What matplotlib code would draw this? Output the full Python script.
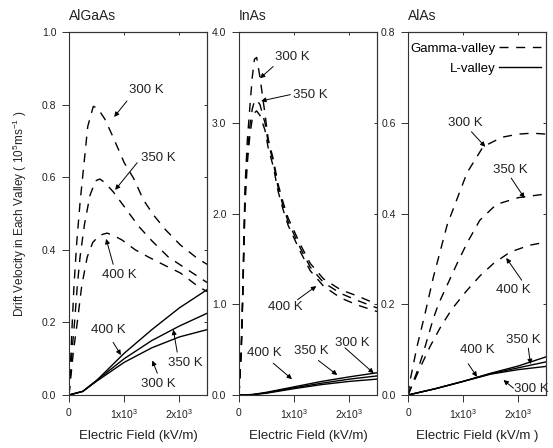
import matplotlib
matplotlib.use('Agg')
import matplotlib.pyplot as plt
from matplotlib.lines import Line2D

plt.rcParams['font.family'] = ['Liberation Sans', 'DejaVu Sans']
plt.rcParams['mathtext.default'] = 'regular'

# ---- AlGaAs ----
algaas_g300_x = [0, 20, 50, 90, 140, 200, 260, 340, 440, 520, 650, 800, 1000, 1170, 1350, 1530, 1750, 2020, 2320, 2500]
algaas_g300_y = [0, 0.06, 0.17, 0.30, 0.42, 0.53, 0.62, 0.74, 0.795, 0.79, 0.76, 0.71, 0.64, 0.597, 0.537, 0.496, 0.455, 0.413, 0.377, 0.36]
algaas_g350_x = [0, 25, 60, 100, 150, 200, 280, 380, 480, 560, 650, 800, 1020, 1260, 1500, 1800, 2100, 2500]
algaas_g350_y = [0, 0.05, 0.13, 0.20, 0.30, 0.38, 0.47, 0.55, 0.59, 0.595, 0.585, 0.56, 0.515, 0.465, 0.425, 0.38, 0.35, 0.31]
algaas_g400_x = [0, 40, 80, 150, 230, 330, 430, 550, 690, 800, 960, 1200, 1440, 1750, 2020, 2330, 2500]
algaas_g400_y = [0, 0.06, 0.12, 0.20, 0.30, 0.38, 0.42, 0.44, 0.446, 0.44, 0.427, 0.40, 0.38, 0.356, 0.336, 0.30, 0.285]
algaas_l_x = [0, 250, 500, 1000, 1500, 2000, 2500]
algaas_l400_y = [0, 0.01, 0.04, 0.115, 0.18, 0.24, 0.29]
algaas_l350_y = [0, 0.01, 0.04, 0.10, 0.15, 0.19, 0.225]
algaas_l300_y = [0, 0.01, 0.038, 0.09, 0.13, 0.16, 0.18]

# ---- InAs ----
inas_g_x = [0, 40, 70, 90, 110, 150, 200, 240, 280, 320, 380, 470, 530, 620, 710, 800, 890, 1110, 1290, 1530, 1840, 2150, 2500]
inas_g300_y = [0, 0.5, 1.2, 1.8, 2.3, 2.8, 3.2, 3.5, 3.70, 3.72, 3.5, 3.1, 2.82, 2.6, 2.32, 2.12, 1.95, 1.66, 1.45, 1.28, 1.16, 1.09, 1.00]
inas_g350_y = [0, 0.48, 1.15, 1.7, 2.2, 2.65, 2.98, 3.15, 3.24, 3.25, 3.2, 3.0, 2.78, 2.57, 2.28, 2.08, 1.91, 1.62, 1.41, 1.24, 1.12, 1.04, 0.96]
inas_g400_y = [0, 0.46, 1.1, 1.62, 2.1, 2.55, 2.88, 3.04, 3.11, 3.13, 3.08, 2.92, 2.72, 2.52, 2.24, 2.04, 1.87, 1.58, 1.37, 1.2, 1.07, 0.99, 0.92]
inas_l_x = [0, 250, 500, 1000, 1500, 2000, 2500]
inas_l400_y = [0, 0.005, 0.03, 0.09, 0.15, 0.20, 0.245]
inas_l350_y = [0, 0.005, 0.025, 0.08, 0.13, 0.175, 0.21]
inas_l300_y = [0, 0.004, 0.02, 0.07, 0.115, 0.15, 0.175]

# ---- AlAs ----
alas_g300_x = [0, 40, 160, 310, 460, 710, 1070, 1360, 1700, 2000, 2250, 2500]
alas_g300_y = [0, 0.033, 0.105, 0.18, 0.26, 0.375, 0.49, 0.547, 0.568, 0.575, 0.577, 0.575]
alas_g350_x = [0, 160, 270, 450, 550, 890, 1070, 1300, 1600, 2000, 2500]
alas_g350_y = [0, 0.05, 0.09, 0.165, 0.2, 0.29, 0.335, 0.385, 0.42, 0.435, 0.443]
alas_g400_x = [0, 200, 400, 600, 800, 1050, 1300, 1550, 1850, 2200, 2500]
alas_g400_y = [0, 0.055, 0.107, 0.152, 0.19, 0.228, 0.262, 0.29, 0.315, 0.33, 0.337]
alas_l_x = [0, 500, 1000, 1500, 2000, 2500]
alas_l400_y = [0, 0.014, 0.03, 0.048, 0.064, 0.084]
alas_l350_y = [0, 0.014, 0.03, 0.047, 0.060, 0.073]
alas_l300_y = [0, 0.014, 0.03, 0.046, 0.056, 0.063]

# labels: (text, text centre, arrow tail, arrow head)
algaas_notes = [
    ('300 K', (1400, 0.84), (1050, 0.81), (818, 0.766)),
    ('350 K', (1620, 0.653), (1236, 0.64), (836, 0.565)),
    ('400 K', (910, 0.33), (800, 0.36), (673, 0.43)),
    ('400 K', (710, 0.18), (800, 0.145), (940, 0.11)),
    ('350 K', (2100, 0.088), (1960, 0.118), (1890, 0.18)),
    ('300 K', (1620, 0.03), (1600, 0.06), (1510, 0.095)),
]
inas_notes = [
    ('300 K', (960, 3.72), (620, 3.62), (380, 3.49)),
    ('350 K', (1290, 3.31), (930, 3.31), (400, 3.24)),
    ('400 K', (830, 0.97), (1060, 1.05), (1400, 1.2)),
    ('400 K', (455, 0.46), (620, 0.35), (960, 0.175)),
    ('350 K', (1310, 0.485), (1440, 0.38), (1780, 0.22)),
    ('300 K', (2050, 0.57), (1920, 0.52), (2440, 0.24)),
]
alas_notes = [
    ('300 K', (1030, 0.60), (1150, 0.58), (1400, 0.547)),
    ('350 K', (1850, 0.496), (1870, 0.478), (2110, 0.434)),
    ('400 K', (1910, 0.231), (2060, 0.253), (1780, 0.302)),
    ('400 K', (1260, 0.099), (1090, 0.069), (1250, 0.04)),
    ('350 K', (2090, 0.121), (2180, 0.103), (2220, 0.068)),
    ('300 K', (2240, 0.013), (1910, 0.015), (1730, 0.033)),
]

xtick_vals = [0, 1000, 2000]
xtick_text = ['0', '1x10$^{3}$', '2x10$^{3}$']

fig = plt.figure(figsize=(5.53, 4.48), dpi=100)
W, H = 553.0, 448.0
axes_px = [69, 239, 408]
axs = [fig.add_axes([l / W, 53 / H, 138 / W, 363 / H]) for l in axes_px]

dash = (6.5, 5.5)
edge = '#333333'
tcol = '#222222'


def draw_panel(ax, title, gammas, ls, ymax, ystep, notes, xlabel):
    for gx, gy in gammas:
        ax.plot(gx, gy, color='k', lw=1.0, dashes=dash)
    for lx, ly in ls:
        ax.plot(lx, ly, color='k', lw=1.0)
    ax.set_xlim(0, 2500)
    ax.set_ylim(0, ymax)
    ax.set_xticks(xtick_vals)
    ax.set_xticklabels(xtick_text)
    nt = int(round(ymax / ystep)) + 1
    yt = [i * ystep for i in range(nt)]
    ax.set_yticks(yt)
    ax.set_yticklabels(['%.1f' % v for v in yt])
    ax.tick_params(direction='out', length=5, width=0.7, color=edge,
                   labelsize=7.5, pad=4, labelcolor=tcol)
    # short inward ticks on the top and right frame
    top = ax.secondary_xaxis('top')
    top.set_xticks(xtick_vals)
    top.tick_params(direction='in', length=2.5, width=0.7, color=edge,
                    labeltop=False)
    right = ax.secondary_yaxis('right')
    right.set_yticks(yt)
    right.tick_params(direction='in', length=2.5, width=0.7, color=edge,
                      labelright=False)
    for a in (ax, top, right):
        for s in a.spines.values():
            s.set_color(edge)
            s.set_linewidth(0.8)
    ax.set_xlabel(xlabel, fontsize=9.5, labelpad=6, color=tcol)
    ax.text(0.0, 1.033, title, transform=ax.transAxes, fontsize=10,
            ha='left', va='baseline', color=tcol)
    for txt, tpos, tail, head in notes:
        ax.text(tpos[0], tpos[1], txt, fontsize=9.5, ha='center', va='center',
                color=tcol)
        ax.annotate('', xy=head, xytext=tail,
                    arrowprops=dict(arrowstyle='-|>', color='k', lw=0.7,
                                    mutation_scale=7, shrinkA=0, shrinkB=0))


draw_panel(axs[0], 'AlGaAs',
           [(algaas_g300_x, algaas_g300_y), (algaas_g350_x, algaas_g350_y),
            (algaas_g400_x, algaas_g400_y)],
           [(algaas_l_x, algaas_l400_y), (algaas_l_x, algaas_l350_y),
            (algaas_l_x, algaas_l300_y)],
           1.0, 0.2, algaas_notes, 'Electric Field (kV/m)')
draw_panel(axs[1], 'InAs',
           [(inas_g_x, inas_g300_y), (inas_g_x, inas_g350_y), (inas_g_x, inas_g400_y)],
           [(inas_l_x, inas_l400_y), (inas_l_x, inas_l350_y), (inas_l_x, inas_l300_y)],
           4.0, 1.0, inas_notes, 'Electric Field (kV/m)')
draw_panel(axs[2], 'AlAs',
           [(alas_g300_x, alas_g300_y), (alas_g350_x, alas_g350_y),
            (alas_g400_x, alas_g400_y)],
           [(alas_l_x, alas_l400_y), (alas_l_x, alas_l350_y), (alas_l_x, alas_l300_y)],
           0.8, 0.2, alas_notes, 'Electric Field (kV/m )')

axs[0].set_ylabel('Drift Velocity in Each Valley ( 10$^{5}$ms$^{-1}$ )',
                  fontsize=8.5, labelpad=9, color=tcol)

# legend, two single-entry legends so the texts end at the same x
h_g = Line2D([], [], color='k', lw=1.0, dashes=dash)
h_l = Line2D([], [], color='k', lw=1.0)
leg_kw = dict(loc='upper right', markerfirst=False, frameon=False,
              fontsize=9.5, handlelength=3.2, handletextpad=0.2,
              borderaxespad=0.0)
leg1 = axs[2].legend([h_g], ['Gamma-valley'], bbox_to_anchor=(1.0, 0.985), **leg_kw)
axs[2].add_artist(leg1)
axs[2].legend([h_l], ['L-valley'], bbox_to_anchor=(1.0, 0.93), **leg_kw)

fig.savefig('out.png', dpi=100)
